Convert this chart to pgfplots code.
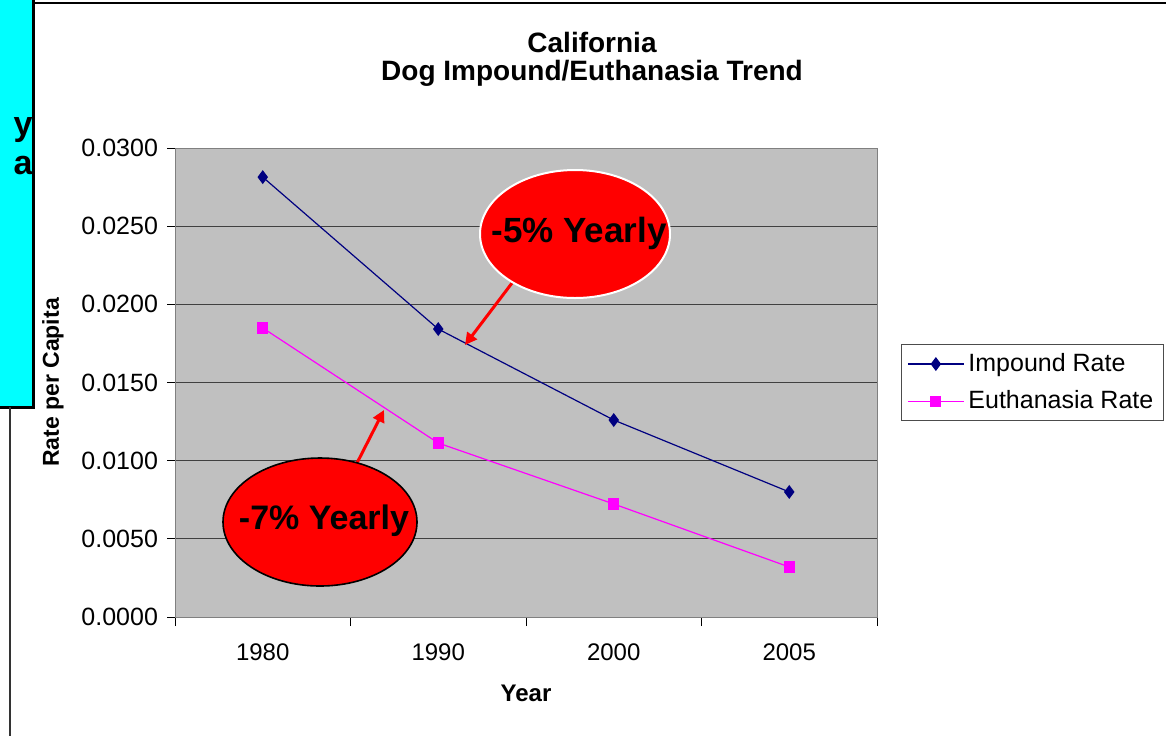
\documentclass[border=0pt]{standalone}
\usepackage{pgfplots}
\pgfplotsset{compat=1.18}
\usepackage{fontspec}
\setmainfont{Liberation Sans}
\usetikzlibrary{arrows.meta}
\definecolor{impound}{HTML}{000080}
\definecolor{euth}{HTML}{FF00FF}
\definecolor{plotbg}{HTML}{C0C0C0}
\definecolor{cyanbox}{HTML}{00FFFF}
\begin{document}
\begin{tikzpicture}[x=0.5pt,y=0.5pt]
\path[use as bounding box] (0,0) rectangle (1166,-735);
% left decoration
\fill[cyanbox] (0,2) rectangle (33,-407);
\draw[line width=1.5pt] (33,2) -- (33,-407) -- (0,-407);
\node[font=\bfseries\fontsize{17}{17}\selectfont, anchor=east, inner sep=0pt] at (33,-130) {y};
\node[font=\bfseries\fontsize{17}{17}\selectfont, anchor=east, inner sep=0pt] at (33,-166) {a};
\draw[line width=0.6pt] (33,-3) -- (1166,-3);
\draw[line width=0.8pt, black!80] (10,-407) -- (10,-740);
% titles
\node[font=\bfseries\fontsize{14}{14}\selectfont] at (592,-42) {California};
\node[font=\bfseries\fontsize{14}{14}\selectfont] at (592,-73) {Dog Impound/Euthanasia Trend};
\begin{axis}[
  at={(87.5pt,-308.5pt)}, anchor=south west,
  scale only axis, width=351pt, height=234.5pt,
  xmin=-0.5, xmax=3.5, ymin=0, ymax=0.03,
  scaled y ticks=false,
  axis background/.style={fill=plotbg},
  axis line style={black!50},
  xtick={0,1,2,3}, xticklabels={1980,1990,2000,2005},
  minor xtick={-0.5,0.5,1.5,2.5,3.5},
  major x tick style={draw=none},
  minor tick length=4.5pt,
  tick align=outside,
  ytick={0,0.005,0.01,0.015,0.02,0.025,0.03},
  yticklabels={0.0000,0.0050,0.0100,0.0150,0.0200,0.0250,0.0300},
  major tick length=4pt,
  tick style={black, line width=0.5pt},
  xtick pos=bottom, ytick pos=left,
  ymajorgrids, major grid style={black!75, line width=0.5pt},
  xticklabel style={font=\fontsize{12}{12}\selectfont, yshift=-6pt},
  yticklabel style={font=\fontsize{12.5}{12.5}\selectfont, xshift=-1pt},
  xlabel={Year}, ylabel={Rate per Capita},
  xlabel style={font=\bfseries\fontsize{12}{12}\selectfont, yshift=-5pt},
  ylabel style={font=\bfseries\fontsize{11.5}{11.5}\selectfont, yshift=2pt},
  legend style={at={(1.034,0.582)}, anchor=north west, draw=black!70,
    font=\fontsize{12.5}{12.5}\selectfont, row sep=4pt, inner xsep=3pt, inner ysep=2.5pt,
    cells={anchor=west}},
  legend image code/.code={\draw[mark repeat=2,mark phase=2,#1] plot coordinates {(0pt,0pt)(14pt,0pt)(28pt,0pt)};},
  clip=false,
]
\addplot[impound, line width=0.6pt, mark=diamond*, mark size=3pt, mark options={solid, fill=impound}]
  coordinates {(0,0.02814) (1,0.01842) (2,0.0126) (3,0.0080)};
\addlegendentry{Impound Rate}
\addplot[euth, line width=0.6pt, mark=square*, mark size=2.5pt, mark options={solid, fill=euth}]
  coordinates {(0,0.01849) (1,0.01113) (2,0.00723) (3,0.0032)};
\addlegendentry{Euthanasia Rate}
\end{axis}
% callouts
\draw[red, line width=1.5pt, -{Triangle[length=6pt,width=6pt]}] (512,-283) -- (465,-345);
\draw[red, line width=1.5pt, -{Triangle[length=6pt,width=6pt]}] (357,-463) -- (384,-410);
\draw[white, line width=1pt, fill=red] (575,-234) ellipse [x radius=47.5pt, y radius=32pt];
\node[font=\bfseries\fontsize{17.5}{17.5}\selectfont] at (579,-233) {-5\% Yearly};
\draw[black, line width=0.8pt, fill=red] (320,-522) ellipse [x radius=48.5pt, y radius=32pt];
\node[font=\bfseries\fontsize{17}{17}\selectfont] at (324,-521) {-7\% Yearly};
\end{tikzpicture}
\end{document}
